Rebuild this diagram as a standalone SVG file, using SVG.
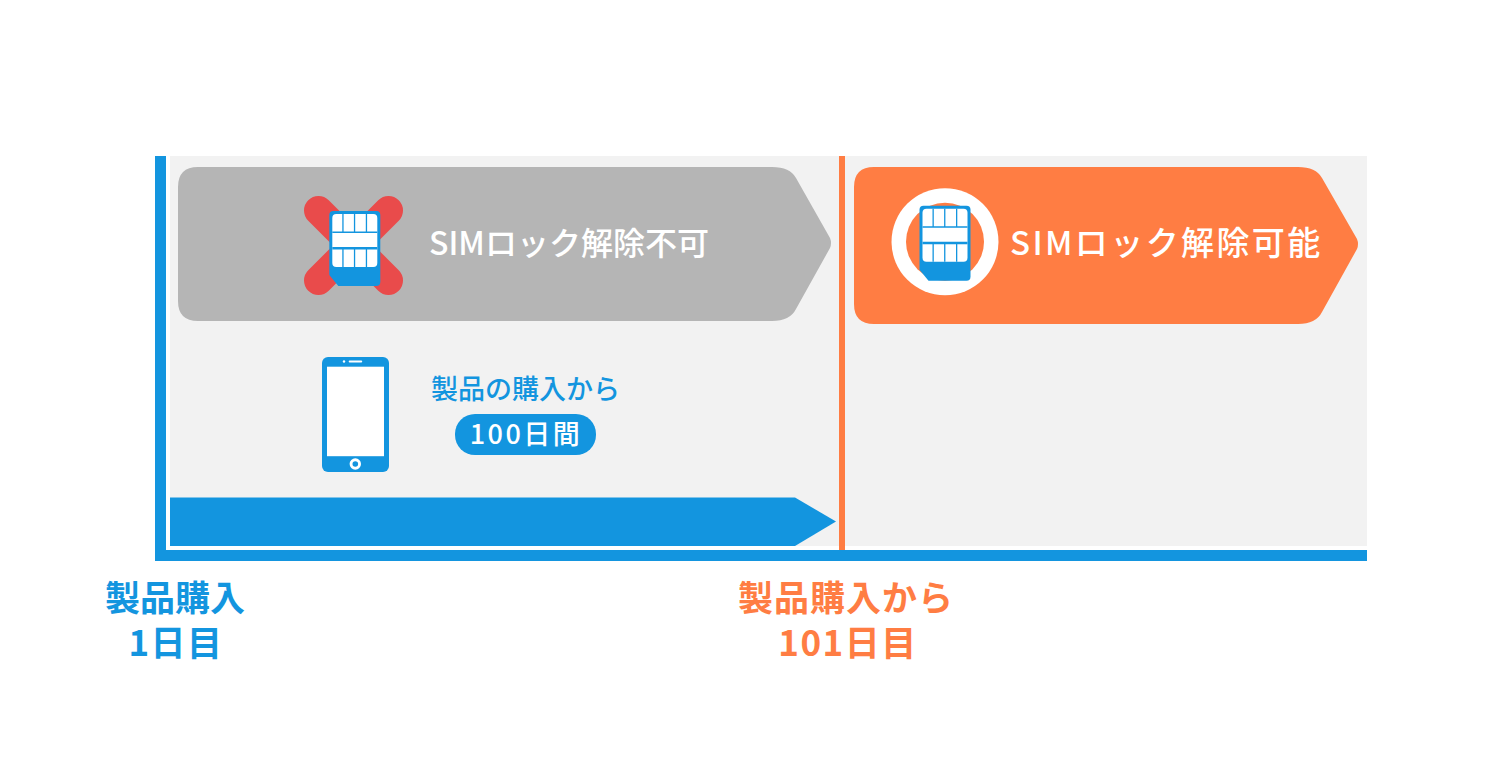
<svg xmlns="http://www.w3.org/2000/svg" width="1500" height="774" viewBox="0 0 1500 774">
<style>
text{font-family:"Noto Sans CJK JP","Liberation Sans",sans-serif;font-weight:500}
text.h{font-weight:700}
.b{fill:#1395df}.o{fill:#ff7d43}.w{fill:#fff}
.c{text-anchor:middle}
</style>
<defs>
<g id="sim">
<path d="M0 4a4 4 0 0 1 4-4H47a4 4 0 0 1 4 4V71a4 4 0 0 1-4 4H9L0 64Z" class="b"/>
<rect x="3" y="3" width="45" height="53" rx="4" class="w"/>
<path class="b" d="M3 20.5H48V22H3ZM3 36H48V38.5H3ZM13 3h1.3V20.5H13ZM24.6 3h1.3V20.5H24.6ZM36.5 3h1.3V20.5H36.5ZM13 38.5h1.3V56H13ZM24.6 38.5h1.3V56H24.6ZM36.5 38.5h1.3V56H36.5Z"/>
</g>
</defs>
<rect width="1500" height="774" fill="#fff"/>
<rect x="170" y="156" width="1197" height="390" fill="#f2f2f2"/>
<g id="connectors">
<rect x="155" y="156" width="11" height="405" class="b"/>
<rect x="155" y="550" width="1212" height="11" class="b"/>
<rect x="839" y="156" width="6" height="394" class="o"/>
<path d="M170 497.500H795L836 521.500 795 546H170Z" class="b"/>
</g>
<g id="locked">
<path d="M198 167H772Q790 167 796 178L830 238Q832 243 830 248L796 309Q790 321 772 321H198Q178 321 178 301V187Q178 167 198 167Z" fill="#b5b5b5"/>
<path d="M318.500 210.500 388.500 280.500M388.500 210.500 318.500 280.500" stroke="#e94b4b" stroke-width="29" stroke-linecap="round" fill="none"/>
<use href="#sim" transform="translate(329.300 211)"/>
<text x="429" y="255" font-size="32" fill="#fff">SIMロック解除不可</text>
</g>
<g id="unlocked">
<path d="M874 167H1298Q1316 167 1322 178L1357 239Q1359 244 1357 249L1322 312Q1316 324 1298 324H874Q854 324 854 304V187Q854 167 874 167Z" class="o"/>
<circle cx="945" cy="241.700" r="53.500" fill="#fff"/>
<circle cx="945" cy="241.700" r="39" class="o"/>
<use href="#sim" transform="translate(919.500 205.700)"/>
<text x="1010" y="255" font-size="33" letter-spacing="2.400" fill="#fff">SIMロック解除可能</text>
</g>
<g id="phone">
<rect x="322" y="357" width="67" height="115" rx="6" class="b"/>
<rect x="327" y="366.700" width="57" height="89.500" class="w"/>
<circle cx="355.300" cy="464" r="5.700" class="w"/>
<circle cx="355.300" cy="464" r="2.800" class="b"/>
<rect x="348.700" y="360.500" width="13.500" height="2" rx="1" class="w"/>
<circle cx="344" cy="361.500" r="1.200" class="w"/>
<text x="431" y="399" font-size="27" class="b">製品の購入から</text>
<rect x="455" y="414" width="141" height="41" rx="20" class="b"/>
<text x="526" y="444" font-size="27" letter-spacing="2.500" class="w c">100日間</text>
</g>
<g id="start">
<text font-size="35" class="b c h"><tspan x="175" y="611">製品購入</tspan><tspan x="176" y="656" letter-spacing="1.500">1日目</tspan></text>
</g>
<g id="day101">
<text font-size="35" class="o c h"><tspan x="846" y="611" letter-spacing="1">製品購入から</tspan><tspan x="848" y="656" letter-spacing="1.500">101日目</tspan></text>
</g>
</svg>
